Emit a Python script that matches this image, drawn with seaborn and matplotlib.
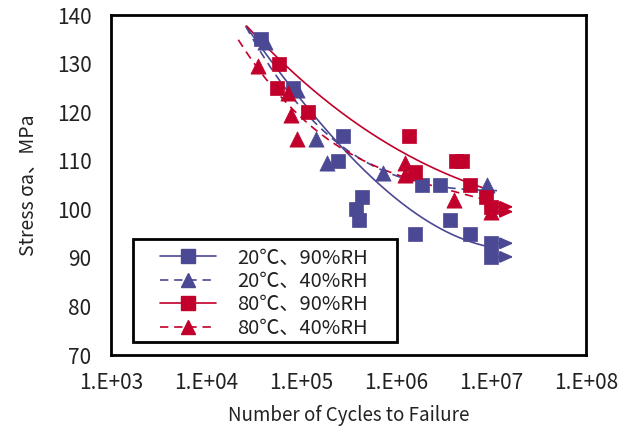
import numpy as np
import pandas as pd
import matplotlib
matplotlib.use("Agg")
import matplotlib.pyplot as plt
import seaborn as sns
from matplotlib.lines import Line2D
from matplotlib.patches import Rectangle
from matplotlib.ticker import NullLocator

sns.set_theme(style="white")
plt.rcParams['font.family'] = ['Noto Sans CJK KR', 'DejaVu Sans']

# ---------------- data ----------------
series_names = ["20℃、90%RH", "20℃、40%RH", "80℃、90%RH", "80℃、40%RH"]

n_20_90 = [3.8e4, 8.2e4, 2.8e5, 2.45e5, 4.4e5, 3.8e5, 4.1e5, 1.9e6, 2.9e6, 1.58e6, 3.7e6, 6.0e6, 1.0e7, 1.0e7]
s_20_90 = [135, 125, 115, 110, 102.5, 100, 97.8, 105, 105, 95, 97.8, 95, 93, 90.2]

n_20_40 = [4.2e4, 9.1e4, 1.44e5, 1.88e5, 7.3e5, 9.1e6]
s_20_40 = [134.5, 124.6, 114.5, 109.5, 107.5, 105]

n_80_90 = [5.9e4, 5.6e4, 1.19e5, 1.37e6, 1.58e6, 4.3e6, 5.0e6, 6.0e6, 8.9e6, 1.0e7]
s_80_90 = [130, 125, 120, 115, 107.7, 110, 110, 105, 102.5, 100.5]

n_80_40 = [3.5e4, 7.3e4, 7.85e4, 9.1e4, 1.24e6, 1.24e6, 4.1e6, 1.0e7]
s_80_40 = [129.5, 124, 119.5, 114.5, 109.5, 107, 102, 99.5]

# run-outs (no failure) : series index, cycles, stress
runout_series = [0, 0, 2, 3]
runout_n = [1.0e7, 1.0e7, 1.0e7, 1.0e7]
runout_s = [93, 90.2, 100.5, 99.5]

# trend curves (log10 cycles, stress)
trend_20_90_logn = [4.42, 4.60, 5.442, 5.832, 6.04, 6.568, 6.958, 7.05]
trend_20_90_s = [137.7, 132.8, 112.8, 104.4, 101.9, 95.1, 92.4, 92.0]
trend_20_40_logn = [4.42, 4.95, 5.41, 5.863, 6.389, 7.063]
trend_20_40_s = [137.5, 122.5, 112.8, 108.1, 105.0, 103.8]
trend_80_90_logn = [4.43, 4.853, 5.442, 6.095, 6.463, 6.747, 6.91]
trend_80_90_s = [137.7, 129.3, 119.8, 111.2, 108.1, 105.6, 104.4]
trend_80_40_logn = [4.34, 4.80, 5.095, 5.337, 5.832, 6.463, 7.063, 7.17]
trend_80_40_s = [134.8, 123.1, 117.8, 112.8, 108.8, 104.4, 101.3, 100.5]

x_ticks = [1e3, 1e4, 1e5, 1e6, 1e7, 1e8]
x_tick_labels = ["1.E+03", "1.E+04", "1.E+05", "1.E+06", "1.E+07", "1.E+08"]
y_ticks = [70, 80, 90, 100, 110, 120, 130, 140]

# ---------------- styling ----------------
BLUE = "#4B4894"
RED = "#C1002B"
TXT = "#222222"
colors = [BLUE, BLUE, RED, RED]
markers = ["s", "^", "s", "^"]
sizes = [110, 120, 110, 120]
dash = (0, (5, 3.5))
linestyles = ["-", dash, "-", dash]

pts = [(n_20_90, s_20_90), (n_20_40, s_20_40), (n_80_90, s_80_90), (n_80_40, s_80_40)]
trends = [(trend_20_90_logn, trend_20_90_s), (trend_20_40_logn, trend_20_40_s),
          (trend_80_90_logn, trend_80_90_s), (trend_80_40_logn, trend_80_40_s)]

fig = plt.figure(figsize=(6.35, 4.36), dpi=100)
ax = fig.add_axes([111 / 635, 81 / 436, 475 / 635, 340 / 436])
ax.set_xscale("log")

# trend curves (smooth polynomial fit through the read trend points)
for i, (tx, ty) in enumerate(trends):
    tx = np.asarray(tx)
    coef = np.polyfit(tx, ty, 3)
    xx = np.linspace(tx.min(), tx.max(), 200)
    df = pd.DataFrame({"N": 10 ** xx, "S": np.polyval(coef, xx)})
    sns.lineplot(data=df, x="N", y="S", color=colors[i], linestyle=linestyles[i],
                 linewidth=1.2, ax=ax, zorder=2, sort=False)

# runout arrows
for si, n, s in zip(runout_series, runout_n, runout_s):
    ax.annotate("", xy=(n * 1.72, s), xytext=(n, s),
                arrowprops=dict(arrowstyle="-|>,head_length=0.9,head_width=0.4",
                                color=colors[si], lw=1.3, shrinkA=0, shrinkB=0,
                                mutation_scale=9), zorder=3)

# data markers
for i, (n, s) in enumerate(pts):
    df = pd.DataFrame({"N": n, "S": s})
    sns.scatterplot(data=df, x="N", y="S", marker=markers[i], s=sizes[i],
                    color=colors[i], edgecolor=colors[i], linewidth=0.5,
                    ax=ax, zorder=4)

ax.set_xlim(1e3, 1e8)
ax.set_ylim(70, 140)
ax.set_xticks(x_ticks)
ax.set_xticklabels(x_tick_labels)
ax.xaxis.set_minor_locator(NullLocator())
ax.set_yticks(y_ticks)
ax.set_yticklabels([str(v) for v in y_ticks])
ax.tick_params(axis="both", which="major", direction="in", length=5, width=1,
               color="black", labelsize=15, labelcolor=TXT, pad=14)
ax.tick_params(axis="x", pad=12)
for sp in ax.spines.values():
    sp.set_color("black")
    sp.set_linewidth(2)
    sp.set_visible(True)

ax.set_xlabel("Number of Cycles to Failure", fontsize=13.5, color=TXT, labelpad=8)
ax.set_ylabel("Stress σa、MPa", fontsize=14, color=TXT, labelpad=13)

# legend box (drawn as a rectangle) and legend contents
ax.add_patch(Rectangle((0.0463, 0.0382), 0.5558, 0.303, transform=ax.transAxes,
                       facecolor="white", edgecolor="black", linewidth=2, zorder=5))
handles = [Line2D([0], [0], color=colors[i], linestyle=linestyles[i], linewidth=1.2,
                  marker=markers[i], markersize=10, markerfacecolor=colors[i],
                  markeredgecolor=colors[i]) for i in range(4)]
leg = ax.legend(handles, series_names, loc="center left", bbox_to_anchor=(0.103, 0.182),
                borderaxespad=0, borderpad=0, fontsize=14.5, frameon=False,
                handlelength=2.8, handletextpad=1.05, labelspacing=0.12)
leg.set_zorder(6)
for t in leg.get_texts():
    t.set_color(TXT)

fig.savefig("out.png", dpi=100, facecolor="white")
